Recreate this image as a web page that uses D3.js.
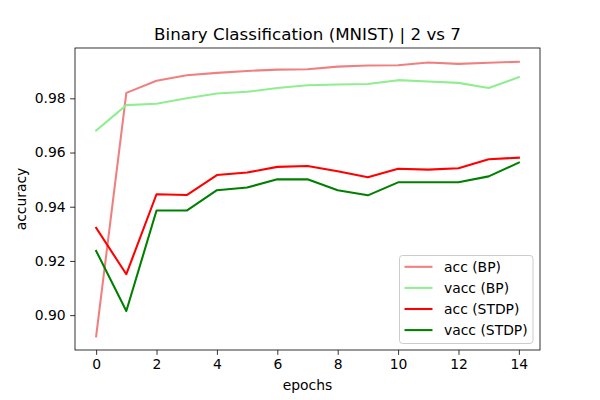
<!DOCTYPE html>
<html>
<head>
    <meta charset="utf-8">
    <script src="https://d3js.org/d3.v7.min.js"></script>
    <style>
        body { margin: 0; background: #fff; }
        text { font-family: "DejaVu Sans", sans-serif; fill: #000; }
    </style>
</head>
<body>
    <svg id="chart" width="600" height="400"></svg>

    <script>
        // values
        const epochs = d3.range(0, 15);
        const accBP = [0.8922, 0.9820, 0.9865, 0.9885, 0.9894, 0.9901, 0.9906, 0.9907, 0.9917, 0.9921, 0.9922, 0.9932, 0.9927, 0.9931, 0.9935];
        const vaccBP = [0.9681, 0.9775, 0.9780, 0.9800, 0.9818, 0.9824, 0.9838, 0.9848, 0.9851, 0.9853, 0.9867, 0.9862, 0.9857, 0.9838, 0.9878];
        const accSTDP = [0.9322, 0.9151, 0.9446, 0.9443, 0.9517, 0.9526, 0.9547, 0.9550, 0.9531, 0.9509, 0.9540, 0.9537, 0.9542, 0.9575, 0.9581];
        const vaccSTDP = [0.9237, 0.9015, 0.9386, 0.9386, 0.9461, 0.9471, 0.9501, 0.9501, 0.9461, 0.9442, 0.9490, 0.9490, 0.9490, 0.9512, 0.9563];

        const seriesNames = ["acc (BP)", "vacc (BP)", "acc (STDP)", "vacc (STDP)"];
        const seriesColors = ["#f08080", "#90ee90", "#ff0000", "#008000"];
        const xTicks = [0, 2, 4, 6, 8, 10, 12, 14];
        const yTicks = [0.90, 0.92, 0.94, 0.96, 0.98];

        const series = [accBP, vaccBP, accSTDP, vaccSTDP];

        const svg = d3.select("#chart");
        const margin = {left: 75, right: 60, top: 48, bottom: 50};
        const width = 600, height = 400;

        // matplotlib style 5% padding on data range
        const xPad = (14 - 0) * 0.05;
        const x = d3.scaleLinear()
            .domain([0 - xPad, 14 + xPad])
            .range([margin.left, width - margin.right]);

        const allVals = series.flat();
        const yMin = d3.min(allVals), yMax = d3.max(allVals);
        const yPad = (yMax - yMin) * 0.05;
        const y = d3.scaleLinear()
            .domain([yMin - yPad, yMax + yPad])
            .range([height - margin.bottom, margin.top]);

        const xAxis = svg.append("g")
            .attr("transform", `translate(0,${height - margin.bottom})`)
            .call(d3.axisBottom(x).tickValues(xTicks).tickFormat(d3.format("d")).tickSize(4.9).tickPadding(4.5));

        const yAxis = svg.append("g")
            .attr("transform", `translate(${margin.left},0)`)
            .call(d3.axisLeft(y).tickValues(yTicks).tickFormat(d3.format(".2f")).tickSize(4.9).tickPadding(4.5));

        [xAxis, yAxis].forEach(a => {
            a.select(".domain").remove();
            a.selectAll("line").attr("stroke", "#000").attr("stroke-width", 0.8);
            a.selectAll("text").attr("font-size", "13.9px").attr("font-family", "DejaVu Sans");
        });

        // lines
        const line = d3.line()
            .x((d, i) => x(epochs[i]))
            .y(d => y(d));

        svg.append("g")
            .selectAll("path")
            .data(series)
            .join("path")
            .attr("d", line)
            .attr("fill", "none")
            .attr("stroke", (d, i) => seriesColors[i])
            .attr("stroke-width", 2.08)
            .attr("stroke-linejoin", "round")
            .attr("stroke-linecap", "square");

        // frame
        svg.append("rect")
            .attr("x", margin.left)
            .attr("y", margin.top)
            .attr("width", width - margin.left - margin.right)
            .attr("height", height - margin.top - margin.bottom)
            .attr("fill", "none")
            .attr("stroke", "#000")
            .attr("stroke-width", 0.8);

        // title and labels
        svg.append("text")
            .attr("x", (margin.left + width - margin.right) / 2)
            .attr("y", 40)
            .attr("text-anchor", "middle")
            .attr("font-size", "16.7px")
            .text("Binary Classification (MNIST) | 2 vs 7");

        svg.append("text")
            .attr("x", (margin.left + width - margin.right) / 2)
            .attr("y", 390)
            .attr("text-anchor", "middle")
            .attr("font-size", "13.9px")
            .text("epochs");

        svg.append("text")
            .attr("transform", `translate(25.8,${(margin.top + height - margin.bottom) / 2}) rotate(-90)`)
            .attr("text-anchor", "middle")
            .attr("font-size", "13.9px")
            .text("accuracy");

        // legend
        const legend = svg.append("g").attr("transform", "translate(399.5,255.5)");
        legend.append("rect")
            .attr("width", 133.5)
            .attr("height", 88)
            .attr("rx", 3)
            .attr("fill", "#fff")
            .attr("fill-opacity", 0.8)
            .attr("stroke", "#cccccc")
            .attr("stroke-width", 1);

        const rows = legend.selectAll("g.row")
            .data(seriesNames)
            .join("g")
            .attr("class", "row")
            .attr("transform", (d, i) => `translate(0,${11.3 + i * 21.1})`);

        rows.append("line")
            .attr("x1", 5).attr("x2", 33)
            .attr("stroke", (d, i) => seriesColors[i])
            .attr("stroke-width", 2.08);

        rows.append("text")
            .attr("x", 44.5)
            .attr("dy", "0.35em")
            .attr("font-size", "13.9px")
            .text(d => d);
    </script>
</body>
</html>
